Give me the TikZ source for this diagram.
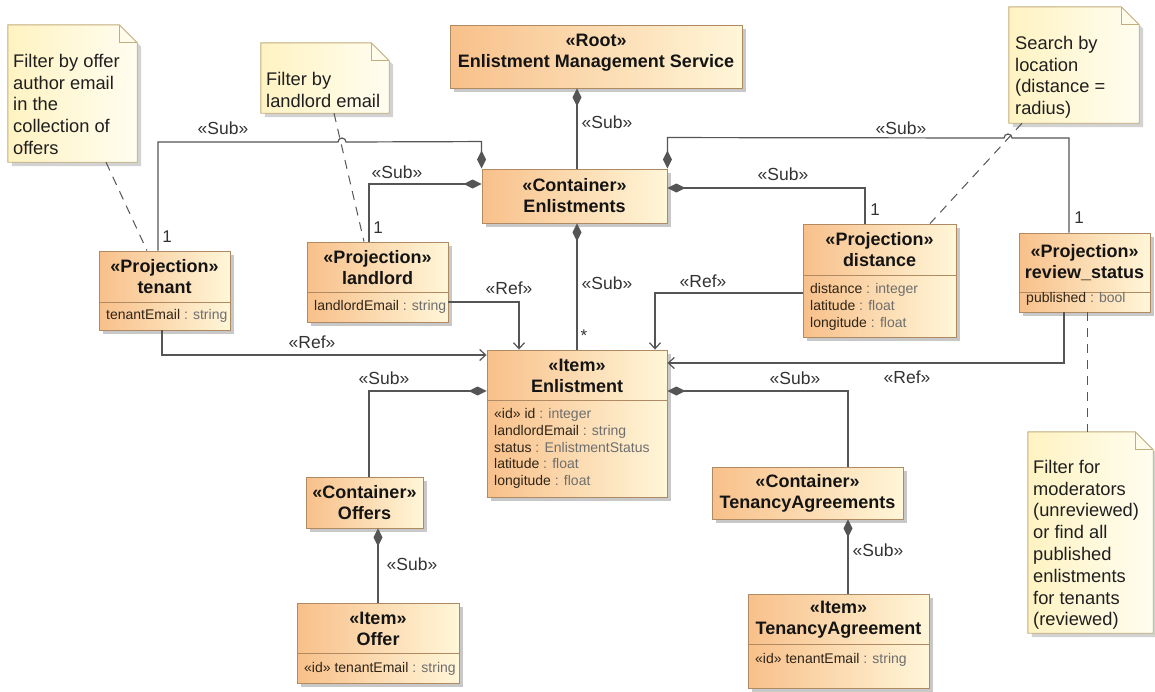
\documentclass[tikz,border=0pt]{standalone}
\usepackage{fontspec}
\setmainfont{Liberation Sans}
\usetikzlibrary{arrows.meta,shadows}

\definecolor{boxL}{HTML}{F8C08A}
\definecolor{boxR}{HTML}{FFF6D8}
\definecolor{boxB}{HTML}{B08A62}
\definecolor{noteL}{HTML}{FFF3C2}
\definecolor{noteR}{HTML}{FFFDF0}
\definecolor{noteB}{HTML}{C2AE7C}
\definecolor{lineC}{HTML}{555555}
\definecolor{attrN}{HTML}{2E2418}
\definecolor{attrT}{HTML}{6E6E6E}
\definecolor{lblC}{HTML}{333333}

\newcommand\attr[2]{\textcolor{attrN}{#1}\ \textcolor{attrT}{: #2}}
\newcommand\astrut{\rule{0pt}{12pt}}
\newcommand\nstrut{\rule{0pt}{16pt}}

% folded-corner note outline around an invisible named node
\newcommand\notepath[1]{%
  \path[notebox] (#1.north west) -- ([xshift=-18pt]#1.north east)
    -- ([yshift=-18pt]#1.north east) -- (#1.south east) -- (#1.south west) -- cycle;
  \draw[notefold] ([xshift=-18pt]#1.north east) |- ([yshift=-18pt]#1.north east);
}

\tikzset{
  classbox/.style={draw=boxB, line width=0.9pt, left color=boxL, right color=boxR,
    inner sep=0pt, drop shadow={shadow xshift=4pt, shadow yshift=-4pt, opacity=0.3, fill=black!70}},
  divline/.style={draw=boxB, line width=0.9pt},
  titletext/.style={font=\bfseries\fontsize{18}{21}\selectfont, align=center, inner sep=0pt, text=black!92},
  attrs/.style={anchor=north west, align=left, inner sep=0pt, font=\fontsize{14}{16.9}\selectfont},
  notehold/.style={inner sep=0pt, draw=none},
  notebox/.style={draw=noteB, line width=0.9pt, left color=noteL, right color=noteR,
    drop shadow={shadow xshift=4pt, shadow yshift=-4pt, opacity=0.25, fill=black!70}},
  notefold/.style={draw=noteB, line width=0.9pt},
  notetext/.style={anchor=north west, align=left, inner sep=0pt, font=\fontsize{18.3}{21.8}\selectfont, text=black!88},
  conn/.style={draw=lineC, line width=1.2pt},
  sub/.style={conn, arrows={Diamond[length=18pt,width=9pt]-}},
  ref/.style={conn, arrows={-Straight Barb[length=6pt,width=11pt]}},
  notelink/.style={draw=lineC, line width=1pt, dash pattern=on 9pt off 7pt},
  lbl/.style={font=\fontsize{17.5}{20}\selectfont, text=lblC, inner sep=0pt},
  mult/.style={font=\fontsize{17}{20}\selectfont, text=lblC, inner sep=0pt},
}

\begin{document}
\begin{tikzpicture}[x=1pt, y=-1pt]
\useasboundingbox (0,0) rectangle (1155,691);
\fill[white] (0,0) rectangle (1155,691);

% ---------- notes ----------
\node[notehold, minimum width=129pt, minimum height=137pt] (note1) at (72.5,93.5) {};
\notepath{note1}
\node[notetext] (note1t) at (13,51) {\nstrut Filter by offer\\author email\\in the\\collection of\\offers};

\node[notehold, minimum width=128pt, minimum height=70pt] (note2) at (325,78) {};
\notepath{note2}
\node[notetext] (note2t) at (266,69) {\nstrut Filter by\\landlord email};

\node[notehold, minimum width=130pt, minimum height=116pt] (note3) at (1074,65) {};
\notepath{note3}
\node[notetext] (note3t) at (1015,33) {\nstrut Search by\\location\\(distance =\\radius)};

\node[notehold, minimum width=125pt, minimum height=201pt] (note4) at (1090.5,532.5) {};
\notepath{note4}
\node[notetext] (note4t) at (1033,457) {\nstrut Filter for\\moderators\\(unreviewed)\\or find all\\published\\enlistments\\for tenants\\(reviewed)};

% ---------- class boxes ----------
\node[classbox, minimum width=292pt, minimum height=63pt] (root) at (596,56.5) {};
\node[titletext] (rootT) at (596,53) {«Root»\\Enlistment Management Service};

\node[classbox, minimum width=185pt, minimum height=54pt] (enls) at (574.5,196) {};
\node[titletext] (enlsT) at (574.5,196) {«Container»\\Enlistments};

\node[classbox, minimum width=131pt, minimum height=79pt] (tenant) at (164.5,290.5) {};
\draw[divline] ([yshift=-52pt]tenant.north west) -- ([yshift=-52pt]tenant.north east);
\node[titletext] (tenantT) at (164.5,277) {«Projection»\\tenant};
\node[attrs] (tenantA) at (106,307) {\astrut\attr{tenantEmail}{string}};

\node[classbox, minimum width=141pt, minimum height=80pt] (landlord) at (377.5,282) {};
\draw[divline] ([yshift=-51pt]landlord.north west) -- ([yshift=-51pt]landlord.north east);
\node[titletext] (landlordT) at (377.5,267.5) {«Projection»\\landlord};
\node[attrs] (landlordA) at (314,298) {\astrut\attr{landlordEmail}{string}};

\node[classbox, minimum width=153pt, minimum height=113pt] (distance) at (879.5,280.5) {};
\draw[divline] ([yshift=-52pt]distance.north west) -- ([yshift=-52pt]distance.north east);
\node[titletext] (distanceT) at (879.5,250) {«Projection»\\distance};
\node[attrs] (distanceA) at (810,281) {\astrut\attr{distance}{integer}\\\attr{latitude}{float}\\\attr{longitude}{float}};

\node[classbox, minimum width=131pt, minimum height=79pt] (review) at (1084.5,272.5) {};
\draw[divline] ([yshift=-60pt]review.north west) -- ([yshift=-60pt]review.north east);
\node[titletext] (reviewT) at (1084.5,263) {«Projection»\\review\_status};
\node[attrs] (reviewA) at (1026,290) {\astrut\attr{published}{bool}};

\node[classbox, minimum width=180pt, minimum height=147pt] (item) at (577,423.5) {};
\draw[divline] ([yshift=-51pt]item.north west) -- ([yshift=-51pt]item.north east);
\node[titletext] (itemT) at (577,375.5) {«Item»\\Enlistment};
\node[attrs] (itemA) at (494,406) {\astrut\attr{«id» id}{integer}\\\attr{landlordEmail}{string}\\\attr{status}{EnlistmentStatus}\\\attr{latitude}{float}\\\attr{longitude}{float}};

\node[classbox, minimum width=117pt, minimum height=51pt] (offers) at (364.5,502.5) {};
\node[titletext] (offersT) at (364.5,502.5) {«Container»\\Offers};

\node[classbox, minimum width=162pt, minimum height=80pt] (offer) at (378,643) {};
\draw[divline] ([yshift=-51pt]offer.north west) -- ([yshift=-51pt]offer.north east);
\node[titletext] (offerT) at (378,628.5) {«Item»\\Offer};
\node[attrs] (offerA) at (304,660) {\astrut\attr{«id» tenantEmail}{string}};

\node[classbox, minimum width=191pt, minimum height=52pt] (tac) at (807.5,493) {};
\node[titletext] (tacT) at (807.5,493) {«Container»\\TenancyAgreements};

\node[classbox, minimum width=181pt, minimum height=94pt] (tai) at (838.5,641) {};
\draw[divline] ([yshift=-51pt]tai.north west) -- ([yshift=-51pt]tai.north east);
\node[titletext] (taiT) at (838.5,619.5) {«Item»\\TenancyAgreement};
\node[attrs] (taiA) at (755,651) {\astrut\attr{«id» tenantEmail}{string}};

% ---------- note links ----------
\draw[notelink] ([xshift=33.5pt]note1.south) -- ([xshift=-17.5pt]tenant.north);
\draw[notelink] ([xshift=9pt]note2.south) -- ([xshift=-13.5pt]landlord.north);
\draw[notelink] ([xshift=-52pt]note3.south) -- ([xshift=50.5pt]distance.north);
\draw[notelink] ([xshift=2.5pt]review.south) -- ([xshift=-3.5pt]note4.north);

% ---------- composition (Sub) ----------
\draw[sub] (root.south -| item.north) -- (enls.north -| item.north);
\draw[sub] (enls.south -| item.north) -- (item.north);
\draw[sub] (enls.north west) -- ++(0,-27) -- (346,142)
  arc[start angle=0, end angle=180, radius=4pt] -- (158,142) -- ([xshift=-6.5pt]tenant.north);
\draw[sub] ([yshift=12pt]enls.west) -| ([xshift=-8.5pt]landlord.north);
\draw[sub] ([yshift=8pt]enls.east) -| ([xshift=-14.5pt]distance.north);
\draw[sub] (enls.north east) -- ++(0,-31) -- (1004,138)
  arc[start angle=180, end angle=0, radius=4pt] -- (1069,138) -- ([xshift=-15.5pt]review.north);
\draw[sub] ([yshift=32.5pt]item.west) -| ([xshift=4.5pt]offers.north);
\draw[sub] ([xshift=13.5pt]offers.south) -- (offer.north);
\draw[sub] ([yshift=32.5pt]item.east) -| ([xshift=40.5pt]tac.north);
\draw[sub] ([xshift=40.5pt]tac.south) -- ([xshift=9.5pt]tai.north);

% ---------- references (Ref) ----------
\draw[ref] ([xshift=-2.5pt]tenant.south) |- ([yshift=68.5pt]item.west);
\draw[ref] ([yshift=-20pt]landlord.east) -| ([xshift=-58pt]item.north);
\draw[ref] ([yshift=-12.5pt]distance.west) -| ([xshift=78pt]item.north);
\draw[ref] ([xshift=-20.5pt]review.south) |- ([yshift=60.5pt]item.east);

% ---------- labels ----------
\node[lbl] (lSubRoot) at (607,122) {«Sub»};
\node[lbl] (lSubItem) at (607,283) {«Sub»};
\node[mult] (mItem) at (584,336) {*};
\node[lbl] (lSubTen) at (223,128) {«Sub»};
\node[mult] (mTen) at (167,237) {1};
\node[lbl] (lSubLand) at (397,172) {«Sub»};
\node[mult] (mLand) at (378,228) {1};
\node[lbl] (lSubDist) at (783,174) {«Sub»};
\node[mult] (mDist) at (875,210) {1};
\node[lbl] (lSubRev) at (901,128) {«Sub»};
\node[mult] (mRev) at (1079,218) {1};
\node[lbl] (lRefTen) at (312,342) {«Ref»};
\node[lbl] (lRefLand) at (509,288) {«Ref»};
\node[lbl] (lRefDist) at (703,281) {«Ref»};
\node[lbl] (lRefRev) at (907,377) {«Ref»};
\node[lbl] (lSubOffers) at (384,378) {«Sub»};
\node[lbl] (lSubOffer) at (412,564) {«Sub»};
\node[lbl] (lSubTac) at (795,378) {«Sub»};
\node[lbl] (lSubTai) at (878,550) {«Sub»};
\end{tikzpicture}
\end{document}
